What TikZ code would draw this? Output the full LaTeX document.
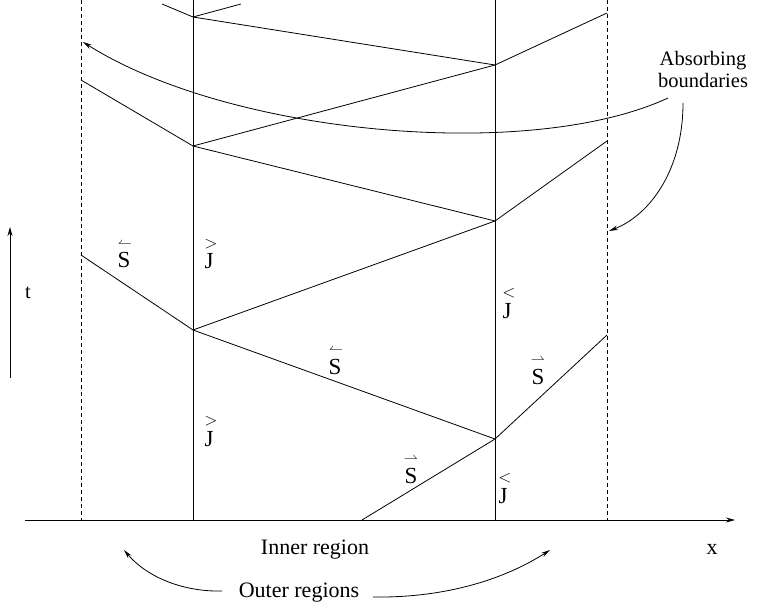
\documentclass[tikz,border=0pt]{standalone}
\usepackage{fontspec}
\setmainfont{Liberation Serif}
\usetikzlibrary{arrows.meta}
\begin{document}
\begin{tikzpicture}[x=1pt,y=-1pt,
  ln/.style={line width=0.8pt},
  bnd/.style={line width=0.8pt,dash pattern=on 4pt off 3pt},
  axis/.style={line width=0.9pt,-{Stealth[length=9pt,width=5pt]}},
  note/.style={line width=0.8pt,-{Stealth[length=9pt,width=4.5pt]}},
  lab/.style={font=\fontsize{23}{24}\selectfont,anchor=base,inner sep=0pt},
  accj/.style={font=\fontsize{18}{18}\selectfont,anchor=center,inner sep=0pt},
  accs/.style={font=\fontsize{15}{15}\selectfont,anchor=center,inner sep=0pt},
  txt/.style={font=\fontsize{20.5}{24}\selectfont,anchor=base,inner sep=0pt},
  btxt/.style={font=\fontsize{22}{24}\selectfont,anchor=base,inner sep=0pt}]
\useasboundingbox (0,0) rectangle (759,609);
% frame coordinates
\coordinate (LDt) at (81,0);  \coordinate (LDb) at (81,520);
\coordinate (LSt) at (193,0); \coordinate (LSb) at (193,520);
\coordinate (RSt) at (495,0); \coordinate (RSb) at (495,520);
\coordinate (RDt) at (607,0); \coordinate (RDb) at (607,520);
\coordinate (xo) at (25,520); \coordinate (xe) at (735,520);
\coordinate (to) at (10,378); \coordinate (te) at (10,227);
% kink points
\coordinate (A) at (193,17);  \coordinate (B) at (495,65);
\coordinate (C) at (193,146); \coordinate (D) at (495,221);
\coordinate (E) at (193,330); \coordinate (F) at (495,439);
\coordinate (a1) at (162,4);  \coordinate (a2) at (241,4);
\coordinate (b1) at (607,13); \coordinate (c1) at (81,80);
\coordinate (d1) at (607,141); \coordinate (e1) at (81,255);
\coordinate (f1) at (607,335); \coordinate (g1) at (362,520);
% boundaries and interfaces
\draw[bnd] (LDt) -- (LDb);
\draw[bnd] (RDt) -- (RDb);
\draw[ln] (LSt) -- (LSb);
\draw[ln] (RSt) -- (RSb);
% axes
\draw[axis] (xo) -- (xe);
\draw[axis] (to) -- (te);
% zig-zag signal paths
\draw[ln] (a1) -- (A) -- (a2);
\draw[ln] (A) -- (B) -- (b1);
\draw[ln] (c1) -- (C) -- (B);
\draw[ln] (C) -- (D) -- (d1);
\draw[ln] (e1) -- (E) -- (D);
\draw[ln] (E) -- (F) -- (f1);
\draw[ln] (g1) -- (F);
% labels: letters
\node[lab] (sl1) at (124,268) {S};
\node[lab] (jl1) at (209,269) {J};
\node[lab] (sl2) at (335,374) {S};
\node[lab] (jl2) at (209,446) {J};
\node[lab] (jr1) at (507,318) {J};
\node[lab] (sr1) at (538,384) {S};
\node[lab] (sb1) at (411,483) {S};
\node[lab] (jb1) at (503,503) {J};
% labels: accents
\node[accs] (sl1a) at (125,245) {$\leftharpoonup$};
\node[accj] (jl1a) at (211,244) {$>$};
\node[accs] (sl2a) at (336,351) {$\leftharpoonup$};
\node[accj] (jl2a) at (211,421) {$>$};
\node[accj] (jr1a) at (509,293) {$<$};
\node[accs] (sr1a) at (538,361) {$\rightharpoonup$};
\node[accs] (sb1a) at (411,460) {$\rightharpoonup$};
\node[accj] (jb1a) at (505,478) {$<$};
% plain texts
\node[txt] (tl) at (28,298) {t};
\node[btxt] (xl) at (712,554) {x};
\node[txt] (ab1) at (703,66) {Absorbing};
\node[txt] (ab2) at (703,88) {boundaries};
\node[btxt] (inner) at (315,554) {Inner region};
\node[btxt] (outer) at (299,597) {Outer regions};
% annotation arrows
\coordinate (s1) at (668,98);  \coordinate (t1) at (83,42);
\coordinate (s2) at (683,103); \coordinate (t2) at (609,231);
\coordinate (s3) at (222,591); \coordinate (t3) at (124,550);
\coordinate (s4) at (373,597); \coordinate (t4) at (550,550);
\draw[note] (s1) .. controls (530,162) and (230,135) .. (t1);
\draw[note] (s2) .. controls (683,170) and (650,215) .. (t2);
\draw[note] (s3) .. controls (180,592) and (145,575) .. (t3);
\draw[note] (s4) .. controls (440,598) and (500,582) .. (t4);
\end{tikzpicture}
\end{document}
